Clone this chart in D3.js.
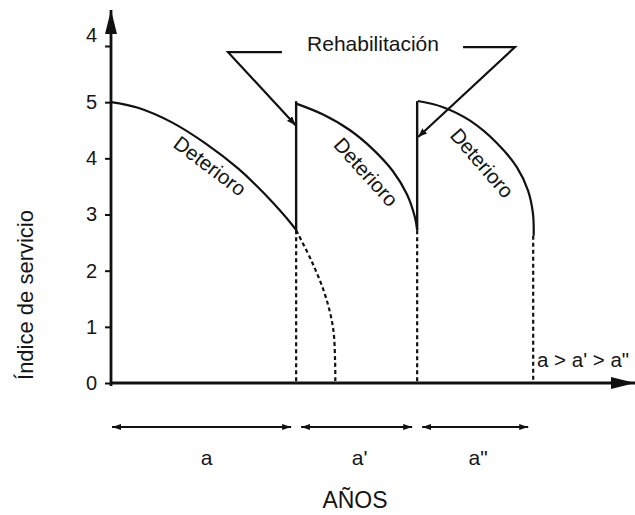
<!DOCTYPE html>
<html>
<head>
<meta charset="utf-8">
<script src="https://cdn.jsdelivr.net/npm/d3@7"></script>
<style>
  body { margin: 0; background: #fff; }
  svg text { font-family: "Liberation Sans", Arial, sans-serif; fill: #151515; }
</style>
</head>
<body>
<svg id="chart" width="635" height="515"></svg>
<script>
// y axis ticks (the top label is printed as "4" in the original)
var yTicks = [0, 1, 2, 3, 4, 5, 6];
var yTickLabels = ['0', '1', '2', '3', '4', '5', '4'];

// rehabilitation years and end of last cycle
var rehabYears = [7.42, 12.27];
var cycleEnds = [7.42, 12.27, 16.92];
var cycleStarts = [0, 7.42, 12.27];
var intervalLabels = ['a', "a'", 'a"'];

// deterioration curves [year, index]
var curve1 = [[0, 5.0], [1.08, 4.90], [2.44, 4.64], [3.77, 4.27], [5.09, 3.82], [6.17, 3.36], [7.29, 2.80], [7.42, 2.72]];
var curve1Dashed = [[7.42, 2.72], [8.06, 2.15], [8.58, 1.57], [8.90, 0.98], [8.98, 0.4], [8.99, 0]];
var curve2 = [[7.45, 4.97], [8.50, 4.78], [9.58, 4.50], [10.50, 4.16], [11.30, 3.77], [11.86, 3.36], [12.18, 2.95], [12.27, 2.72]];
var curve3 = [[12.30, 5.02], [13.31, 4.91], [14.39, 4.67], [15.47, 4.27], [16.27, 3.84], [16.71, 3.43], [16.91, 3.02], [16.94, 2.62]];
var dropValues = [2.72, 2.72, 2.62];

var svg = d3.select('#chart');

var x = d3.scaleLinear().domain([0, 21]).range([111, 635]);
var y = d3.scaleLinear().domain([0, 6]).range([383, 46]);

var defs = svg.append('defs');
function arrowMarker(id, len, wid, orient) {
	defs.append('marker')
		.attr('id', id)
		.attr('markerUnits', 'userSpaceOnUse')
		.attr('viewBox', '0 0 ' + len + ' ' + wid)
		.attr('refX', len).attr('refY', wid / 2)
		.attr('markerWidth', len).attr('markerHeight', wid)
		.attr('orient', orient)
		.append('path')
		.attr('d', 'M0,0L' + len + ',' + wid / 2 + 'L0,' + wid + 'Z')
		.attr('fill', '#111');
}
arrowMarker('bigArrow', 24, 12, 'auto');
arrowMarker('smallEnd', 9, 6, 'auto');
arrowMarker('smallStart', 9, 6, 'auto-start-reverse');
arrowMarker('leader', 9, 7, 'auto');

// axes
svg.append('line')
	.attr('x1', x(0)).attr('y1', y(0) + 3)
	.attr('x2', x(0)).attr('y2', y(6.64))
	.attr('stroke', '#111').attr('stroke-width', 2.8)
	.attr('marker-end', 'url(#bigArrow)');
svg.append('line')
	.attr('x1', x(0) - 1).attr('y1', y(0))
	.attr('x2', x(21)).attr('y2', y(0))
	.attr('stroke', '#111').attr('stroke-width', 2.8)
	.attr('marker-end', 'url(#bigArrow)');

var yAxis = svg.append('g')
	.attr('transform', 'translate(' + x(0) + ',0)')
	.call(d3.axisLeft(y).tickValues(yTicks).tickSize(6).tickPadding(8)
		.tickFormat(function(d, i) { return yTickLabels[i]; }));
yAxis.select('.domain').remove();
yAxis.selectAll('line').attr('stroke', '#111').attr('stroke-width', 2);
yAxis.selectAll('text')
	.attr('font-size', 20)
	.attr('fill', '#151515')
	.style('font-family', '"Liberation Sans", Arial, sans-serif');
// top label sits a little above its tick in the original
yAxis.selectAll('.tick').filter(function(d) { return d === 6; })
	.select('text').attr('y', -11);

svg.append('text')
	.attr('transform', 'translate(33,' + 295 + ') rotate(-90)')
	.attr('text-anchor', 'middle')
	.attr('font-size', 22)
	.text('Índice de servicio');

// curves
var line = d3.line()
	.x(function(d) { return x(d[0]); })
	.y(function(d) { return y(d[1]); })
	.curve(d3.curveCatmullRom.alpha(0.5));

[curve1, curve2, curve3].forEach(function(c) {
	svg.append('path')
		.attr('d', line(c))
		.attr('fill', 'none')
		.attr('stroke', '#111')
		.attr('stroke-width', 2.2);
});
svg.append('path')
	.attr('d', line(curve1Dashed))
	.attr('fill', 'none')
	.attr('stroke', '#111')
	.attr('stroke-width', 2.2)
	.attr('stroke-dasharray', '4,3');

// rehabilitation jumps
rehabYears.forEach(function(r, i) {
	svg.append('line')
		.attr('x1', x(r)).attr('y1', y(dropValues[i]))
		.attr('x2', x(r)).attr('y2', y(5.0) - 1)
		.attr('stroke', '#111').attr('stroke-width', 2.4);
});
// dashed drops to the axis
cycleEnds.forEach(function(r, i) {
	svg.append('line')
		.attr('x1', x(r)).attr('y1', y(dropValues[i]))
		.attr('x2', x(r)).attr('y2', y(0))
		.attr('stroke', '#111').attr('stroke-width', 2.2)
		.attr('stroke-dasharray', '4,3');
});

// Deterioro labels
var detLabels = [
	{ cx: 210, cy: 166, a: 37 },
	{ cx: 366, cy: 172, a: 48 },
	{ cx: 482, cy: 163, a: 49 }
];
detLabels.forEach(function(d) {
	svg.append('text')
		.attr('transform', 'translate(' + d.cx + ',' + d.cy + ') rotate(' + d.a + ')')
		.attr('text-anchor', 'middle')
		.attr('dy', '0.35em')
		.attr('font-size', 20.5)
		.text('Deterioro');
});

// Rehabilitación callout
svg.append('text')
	.attr('x', 373).attr('y', 51)
	.attr('text-anchor', 'middle')
	.attr('font-size', 21)
	.text('Rehabilitación');

var leaders = [
	[[6.85, 5.89], [4.69, 5.89], [rehabYears[0] - 0.02, 4.59]],
	[[14.11, 5.98], [16.19, 5.98], [rehabYears[1] + 0.04, 4.38]]
];
leaders.forEach(function(l) {
	svg.append('path')
		.attr('d', d3.line().x(function(d) { return x(d[0]); }).y(function(d) { return y(d[1]); })(l))
		.attr('fill', 'none')
		.attr('stroke', '#111')
		.attr('stroke-width', 2.2)
		.attr('marker-end', 'url(#leader)');
});

// interval arrows
var arrowY = 427;
cycleStarts.forEach(function(s, i) {
	var e = cycleEnds[i];
	svg.append('line')
		.attr('x1', x(s) + (i === 0 ? 1 : 5)).attr('y1', arrowY)
		.attr('x2', x(e) - 5).attr('y2', arrowY)
		.attr('stroke', '#111').attr('stroke-width', 2.2)
		.attr('marker-start', 'url(#smallStart)')
		.attr('marker-end', 'url(#smallEnd)');
	svg.append('text')
		.attr('x', x((s + e) / 2) + 3).attr('y', 465)
		.attr('text-anchor', 'middle')
		.attr('font-size', 21)
		.text(intervalLabels[i]);
});

svg.append('text')
	.attr('x', 537).attr('y', 367)
	.attr('font-size', 20.5)
	.text('a > a\' > a"');

svg.append('text')
	.attr('x', 355).attr('y', 508)
	.attr('text-anchor', 'middle')
	.attr('font-size', 23)
	.text('AÑOS');
</script>
</body>
</html>
